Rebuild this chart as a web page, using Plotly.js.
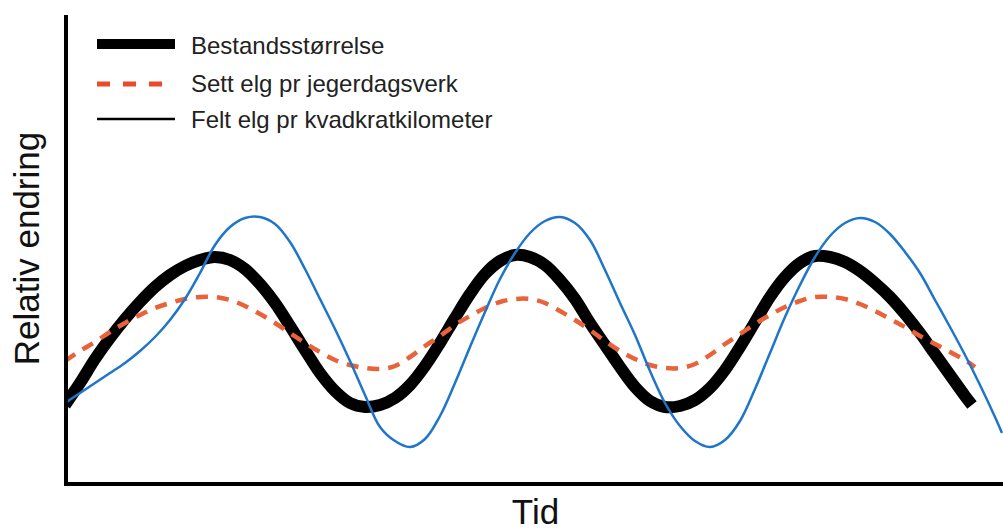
<!DOCTYPE html>
<html>
<head>
<meta charset="utf-8">
<script src="https://cdn.plot.ly/plotly-3.0.1.min.js"></script>
<style>html,body{margin:0;padding:0;background:#fff;}#chart{width:1003px;height:531px;}</style>
</head>
<body>
<div id="chart"></div>
<script>
// Series names (legend labels) and axis titles
const seriesNames = ["Bestandsstørrelse", "Sett elg pr jegerdagsverk", "Felt elg pr kvadkratkilometer"];
const xTitle = "Tid";
const yTitle = "Relativ endring";

// Bestandsstørrelse (population size)
const tBestand = [0,15,30,45,60,75,90,105,120,135,150,165,180,195,210,225,240,255,270,285,300,315,330,345,360,375,390,405,420,435,450,465,480,495,510,525,540,555,570,585,600,615,630,645,660,675,690,705,720,735,750,765,780,795,810,825,840,855,870,885,900,907];
const yBestand = [80,102,126,147,166,183,198,210,219,225,228,225,216,201,182,159,135,112,94,82,78,80,87,100,119,142,167,191,211,224,230,228,220,205,186,162,140,118,98,84,78,79,85,97,115,138,163,188,208,222,229,228,223,214,202,188,171,152,131,110,89,80];

// Sett elg pr jegerdagsverk (moose seen per hunter-day)
const tSett = [0,15,30,45,60,75,90,105,120,135,150,165,180,195,210,225,240,255,270,285,300,315,330,345,360,375,390,405,420,435,450,465,480,495,510,525,540,555,570,585,600,615,630,645,660,675,690,705,720,735,750,765,780,795,810,825,840,855,870,885,900,910];
const ySett = [124,134,143,153,162,170,177,182,186,188,188,185,179,171,162,152,142,133,125,120,117,116,119,128,139,149,160,169,177,183,186,186,182,174,165,155,144,134,126,120,117,117,121,130,141,151,161,170,178,184,188,188,186,181,174,166,158,149,141,133,125,118];

// Felt elg pr kvadratkilometer (moose shot per km²)
const tFelt = [0,15,30,45,60,75,90,105,120,135,150,165,180,195,210,225,240,255,270,285,300,315,330,345,360,375,390,405,420,435,450,465,480,495,510,525,540,555,570,585,600,615,630,645,660,675,690,705,720,735,750,765,780,795,810,825,840,855,870,885,900,915,930,937];
const yFelt = [82,92,102,112,122,134,148,165,186,212,240,258,267,268,261,243,216,186,156,124,90,58,44,38,46,69,102,138,173,206,232,252,264,268,262,245,215,182,150,114,82,59,44,38,45,64,96,132,168,200,228,249,262,267,263,251,233,212,185,158,130,100,68,52];

const traces = [
  {x: tBestand, y: yBestand, name: seriesNames[0], type: "scatter", mode: "lines",
   line: {color: "#000000", width: 12, shape: "spline", smoothing: 1}},
  {x: tSett, y: ySett, name: seriesNames[1], type: "scatter", mode: "lines",
   line: {color: "#e8623a", width: 4.5, dash: "12px,9px", shape: "spline", smoothing: 1}},
  {x: tFelt, y: yFelt, name: seriesNames[2], type: "scatter", mode: "lines",
   line: {color: "#1f76c9", width: 2.5, shape: "spline", smoothing: 1}}
];

// Plot-area geometry (pixels) for placing the key
const W = 1003, H = 531;
const M = {l: 68, r: 0, t: 15, b: 49};
const pw = W - M.l - M.r, ph = H - M.t - M.b;
const px = v => (v - M.l) / pw;
const py = v => (H - M.b - v) / ph;

// Key drawn as in the original figure (third key line is thin black)
const keyStyles = [
  {color: "#000000", width: 10, dash: "solid", x1: 175, ly: 44, ty: 46},
  {color: "#e84a2a", width: 5, dash: "13px,13px", x1: 163, ly: 84, ty: 83},
  {color: "#000000", width: 2.5, dash: "solid", x1: 175, ly: 119, ty: 119}
];
const shapes = keyStyles.map(k => ({
  type: "line", xref: "paper", yref: "paper", x0: px(97), x1: px(k.x1), y0: py(k.ly), y1: py(k.ly),
  line: {color: k.color, width: k.width, dash: k.dash}
}));
const annotations = keyStyles.map((k, i) => ({
  xref: "paper", yref: "paper", x: px(189), y: py(k.ty), xanchor: "left", yanchor: "middle",
  text: seriesNames[i], showarrow: false, font: {size: 24, color: "#222222"}
}));

const layout = {
  width: W, height: H,
  margin: {l: M.l, r: M.r, t: M.t, b: M.b, pad: 0},
  paper_bgcolor: "#ffffff", plot_bgcolor: "#ffffff",
  font: {family: "Liberation Sans, Arial, sans-serif", color: "#1a1a1a"},
  showlegend: false,
  shapes: shapes,
  annotations: annotations,
  xaxis: {range: [3, 938], showgrid: false, zeroline: false, showticklabels: false, ticks: "",
          showline: true, linecolor: "#000", linewidth: 4,
          title: {text: xTitle, font: {size: 35, color: "#111"}, standoff: 18}},
  yaxis: {range: [3, 470], showgrid: false, zeroline: false, showticklabels: false, ticks: "",
          showline: true, linecolor: "#000", linewidth: 4,
          title: {text: yTitle, font: {size: 35, color: "#111"}, standoff: 15}}
};

Plotly.newPlot("chart", traces, layout, {displayModeBar: false, staticPlot: true});
</script>
</body>
</html>
